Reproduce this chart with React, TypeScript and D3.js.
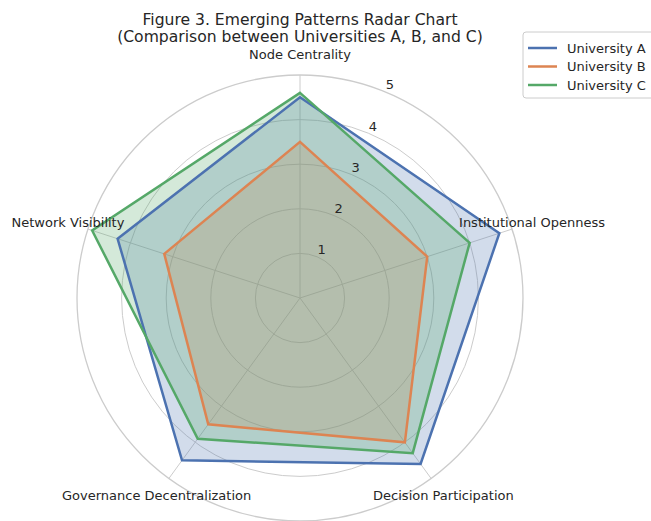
import React, { useEffect, useRef } from 'react';
import * as d3 from 'd3';

const axes = ['Node Centrality', 'Institutional Openness', 'Decision Participation', 'Governance Decentralization', 'Network Visibility'];
const universityA = [4.5, 4.7, 4.6, 4.5, 4.3];
const universityB = [3.5, 3.0, 4.0, 3.5, 3.2];
const universityC = [4.6, 4.0, 4.3, 3.9, 4.9];
const seriesNames = ['University A', 'University B', 'University C'];
const ringTicks = [1, 2, 3, 4, 5];

const colors = ['#4c72b0', '#dd8452', '#55a868'];

const W = 651, H = 521;
const cx = 300, cy = 298;
const R = 223;

const RadarChart = () => {
  const ref = useRef<SVGSVGElement>(null);

  useEffect(() => {
    const svg = d3.select(ref.current);
    svg.selectAll('*').remove();

    const rScale = d3.scaleLinear().domain([0, 5]).range([0, R]);
    const angle = d3.scaleLinear().domain([0, axes.length]).range([0, 2 * Math.PI]);
    const font = 'DejaVu Sans, sans-serif';

    const g = svg.append('g').attr('transform', `translate(${cx},${cy})`);

    // grid rings
    g.selectAll('.ring').data(ringTicks).enter().append('circle')
      .attr('class', 'ring')
      .attr('r', d => rScale(d))
      .attr('fill', 'none')
      .attr('stroke', '#cccccc')
      .attr('stroke-width', d => d === 5 ? 1.3 : 1);

    // spokes
    g.selectAll('.spoke').data(axes).enter().append('line')
      .attr('x1', 0).attr('y1', 0)
      .attr('x2', (d, i) => Math.sin(angle(i)) * rScale(5))
      .attr('y2', (d, i) => -Math.cos(angle(i)) * rScale(5))
      .attr('stroke', '#cccccc')
      .attr('stroke-width', 1);

    const data = [universityA, universityB, universityC];
    const line = d3.lineRadial<number>()
      .angle((d, i) => angle(i))
      .radius(d => rScale(d))
      .curve(d3.curveLinearClosed);

    // fills below, outlines on top
    data.forEach((vals, k) => {
      g.append('path').attr('d', line(vals))
        .attr('fill', colors[k]).attr('fill-opacity', 0.25).attr('stroke', 'none');
    });
    data.forEach((vals, k) => {
      g.append('path').attr('d', line(vals))
        .attr('fill', 'none').attr('stroke', colors[k]).attr('stroke-width', 2.5)
        .attr('stroke-linejoin', 'miter');
    });

    // radial labels
    const la = Math.PI / 8;
    g.selectAll('.rlab').data(ringTicks).enter().append('text')
      .attr('x', d => Math.sin(la) * rScale(d) + 4.5)
      .attr('y', d => -Math.cos(la) * rScale(d) - 7)
      .attr('text-anchor', 'middle')
      .attr('dominant-baseline', 'central')
      .attr('font-family', font).attr('font-size', 13).attr('fill', '#262626')
      .text(d => d);

    // axis labels
    g.selectAll('.alab').data(axes).enter().append('text')
      .attr('x', (d, i) => Math.sin(angle(i)) * 244)
      .attr('y', (d, i) => -Math.cos(angle(i)) * 244)
      .attr('text-anchor', 'middle')
      .attr('dominant-baseline', 'central')
      .attr('font-family', font).attr('font-size', 13).attr('fill', '#262626')
      .text(d => d);

    // title
    const title = svg.append('text').attr('text-anchor', 'middle')
      .attr('font-family', font).attr('font-size', 15.6).attr('fill', '#262626');
    title.append('tspan').attr('x', 300).attr('y', 25).text('Figure 3. Emerging Patterns Radar Chart');
    title.append('tspan').attr('x', 300).attr('y', 42).text('(Comparison between Universities A, B, and C)');

    // legend
    const lg = svg.append('g').attr('transform', 'translate(523,32)');
    lg.append('rect').attr('width', 140).attr('height', 66).attr('rx', 3)
      .attr('fill', 'white').attr('fill-opacity', 0.8).attr('stroke', '#cccccc');
    seriesNames.forEach((name, k) => {
      const y = 16 + k * 18.5;
      lg.append('line').attr('x1', 5).attr('x2', 34).attr('y1', y).attr('y2', y)
        .attr('stroke', colors[k]).attr('stroke-width', 2.5);
      lg.append('text').attr('x', 44).attr('y', y).attr('dominant-baseline', 'central')
        .attr('font-family', font).attr('font-size', 13).attr('fill', '#262626').text(name);
    });
  }, []);

  return <svg ref={ref} width={W} height={H} style={{ display: 'block', background: 'white' }} />;
};

export default function App() {
  return (
    <div style={{ position: 'absolute', left: 0, top: 0 }}>
      <RadarChart />
    </div>
  );
}
